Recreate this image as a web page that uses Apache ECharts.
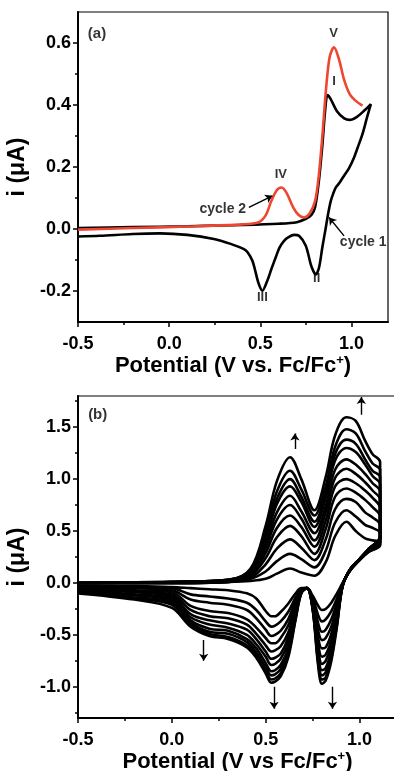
<!DOCTYPE html>
<html>
<head>
<meta charset="utf-8">
<script src="https://cdn.jsdelivr.net/npm/echarts@6/dist/echarts.min.js"></script>
<style>
html, body { margin: 0; padding: 0; background: #fff; }
#chart { width: 394px; height: 771px; }
</style>
</head>
<body>
<div id="chart"></div>
<script>
/* ---------- panel (a): cycle 1 and cycle 2 ---------- */
var cycle1Potential = [-0.5, -0.2, 0.1, 0.4, 0.6, 0.7, 0.75, 0.78, 0.8, 0.82, 0.84, 0.855, 0.868, 0.885, 0.92, 0.96, 0.99, 1.03, 1.07, 1.106,
    1.085, 1.06, 1.035, 1.014, 0.985, 0.959, 0.935, 0.914, 0.9, 0.886, 0.872, 0.859, 0.84, 0.822, 0.804, 0.79, 0.776, 0.749, 0.712, 0.685,
    0.655, 0.63, 0.605, 0.584, 0.56, 0.538, 0.511, 0.49, 0.47, 0.456, 0.43, 0.41, 0.337, 0.245, 0.1, -0.05, -0.2, -0.38, -0.5];
var cycle1Current = [0.003, 0.006, 0.009, 0.013, 0.017, 0.022, 0.033, 0.045, 0.07, 0.15, 0.27, 0.38, 0.432, 0.42, 0.38, 0.357, 0.352, 0.362, 0.382, 0.403,
    0.36, 0.306, 0.265, 0.231, 0.195, 0.172, 0.15, 0.134, 0.115, 0.09, 0.05, 0.005, -0.059, -0.124, -0.147, -0.135, -0.113, -0.054, -0.022, -0.019,
    -0.026, -0.038, -0.06, -0.092, -0.13, -0.167, -0.199, -0.175, -0.13, -0.102, -0.075, -0.065, -0.048, -0.032, -0.019, -0.014, -0.016, -0.022, -0.024];

var cycle2Potential = [-0.5, -0.2, 0.1, 0.4, 0.49, 0.53, 0.56, 0.59, 0.617, 0.645, 0.68, 0.71, 0.74, 0.77, 0.8, 0.82, 0.84, 0.86, 0.88, 0.904,
    0.93, 0.96, 0.99, 1.02, 1.06];
var cycle2Current = [-0.002, 0.003, 0.008, 0.015, 0.022, 0.045, 0.09, 0.125, 0.134, 0.115, 0.07, 0.045, 0.037, 0.05, 0.09, 0.17, 0.3, 0.45, 0.555, 0.586,
    0.55, 0.48, 0.435, 0.415, 0.398];

/* ---------- panel (b): repeated scans ---------- */
var fwdPotential = [-0.5, 0.0, 0.3, 0.42, 0.5, 0.56, 0.63, 0.69, 0.76, 0.82, 0.87, 0.93, 0.98, 1.03, 1.07, 1.11];
var revPotential = [1.11, 1.05, 1.0, 0.95, 0.91, 0.88, 0.85, 0.82, 0.8, 0.78, 0.75, 0.72, 0.69, 0.66, 0.62, 0.58, 0.55, 0.53, 0.5, 0.45,
    0.4, 0.3, 0.2, 0.1, 0.0, -0.2, -0.5];

var fwdCurrent = [
    [0.0, 0.0, 0.01, 0.02, 0.04, 0.09, 0.14, 0.10, 0.07, 0.20, 0.45, 0.59, 0.50, 0.43, 0.41, 0.40],
    [0.0, 0.0, 0.01, 0.04, 0.11, 0.21, 0.28, 0.23, 0.15, 0.31, 0.58, 0.70, 0.64, 0.56, 0.53, 0.48],
    [0.0, 0.0, 0.01, 0.05, 0.18, 0.33, 0.42, 0.34, 0.22, 0.42, 0.71, 0.81, 0.78, 0.68, 0.63, 0.56],
    [0.0, 0.0, 0.01, 0.07, 0.24, 0.44, 0.55, 0.45, 0.28, 0.52, 0.83, 0.91, 0.87, 0.80, 0.73, 0.64],
    [0.0, 0.0, 0.02, 0.08, 0.29, 0.53, 0.65, 0.54, 0.35, 0.60, 0.93, 1.00, 0.96, 0.89, 0.82, 0.72],
    [0.0, 0.01, 0.02, 0.09, 0.34, 0.61, 0.75, 0.62, 0.41, 0.68, 1.01, 1.10, 1.05, 0.97, 0.89, 0.80],
    [0.0, 0.01, 0.02, 0.10, 0.38, 0.68, 0.84, 0.69, 0.48, 0.74, 1.09, 1.19, 1.14, 1.05, 0.96, 0.88],
    [0.0, 0.01, 0.02, 0.11, 0.42, 0.76, 0.93, 0.78, 0.54, 0.82, 1.18, 1.30, 1.26, 1.14, 1.03, 0.95],
    [0.0, 0.01, 0.03, 0.12, 0.45, 0.81, 1.00, 0.83, 0.59, 0.86, 1.24, 1.38, 1.34, 1.19, 1.08, 1.02],
    [0.0, 0.01, 0.03, 0.13, 0.49, 0.88, 1.08, 0.90, 0.65, 0.93, 1.31, 1.48, 1.44, 1.27, 1.15, 1.09],
    [0.0, 0.01, 0.03, 0.14, 0.55, 0.98, 1.21, 1.00, 0.70, 1.02, 1.42, 1.595, 1.56, 1.37, 1.24, 1.165]
];
var revCurrent = [
    [0.36, 0.30, 0.22, 0.12, 0.00, -0.10, -0.19, -0.25, -0.26, -0.22, -0.12, -0.05, -0.05, -0.10, -0.20, -0.28, -0.32, -0.32, -0.27, -0.15, -0.10, -0.07, -0.06, -0.05, -0.04, -0.03, -0.03],
    [0.37, 0.30, 0.22, 0.12, -0.01, -0.15, -0.27, -0.35, -0.37, -0.31, -0.14, -0.05, -0.06, -0.14, -0.28, -0.37, -0.41, -0.42, -0.37, -0.26, -0.19, -0.15, -0.13, -0.11, -0.05, -0.04, -0.035],
    [0.39, 0.31, 0.22, 0.12, -0.01, -0.19, -0.35, -0.45, -0.47, -0.39, -0.16, -0.05, -0.06, -0.17, -0.35, -0.46, -0.50, -0.51, -0.45, -0.34, -0.26, -0.21, -0.19, -0.16, -0.07, -0.05, -0.04],
    [0.40, 0.31, 0.22, 0.12, -0.01, -0.23, -0.42, -0.53, -0.55, -0.46, -0.17, -0.05, -0.07, -0.20, -0.41, -0.53, -0.58, -0.58, -0.53, -0.43, -0.35, -0.29, -0.27, -0.22, -0.09, -0.07, -0.05],
    [0.41, 0.32, 0.23, 0.13, -0.02, -0.27, -0.49, -0.62, -0.63, -0.53, -0.19, -0.05, -0.08, -0.23, -0.48, -0.61, -0.65, -0.66, -0.60, -0.49, -0.40, -0.34, -0.32, -0.26, -0.11, -0.08, -0.055],
    [0.42, 0.32, 0.23, 0.13, -0.02, -0.31, -0.55, -0.69, -0.71, -0.59, -0.20, -0.05, -0.08, -0.26, -0.53, -0.68, -0.72, -0.73, -0.66, -0.54, -0.45, -0.39, -0.36, -0.30, -0.13, -0.09, -0.06],
    [0.43, 0.32, 0.23, 0.13, -0.02, -0.33, -0.60, -0.75, -0.78, -0.64, -0.22, -0.05, -0.09, -0.28, -0.58, -0.73, -0.78, -0.79, -0.71, -0.59, -0.50, -0.43, -0.40, -0.33, -0.15, -0.11, -0.07],
    [0.43, 0.32, 0.23, 0.13, -0.03, -0.36, -0.65, -0.82, -0.84, -0.70, -0.23, -0.05, -0.09, -0.31, -0.63, -0.79, -0.84, -0.85, -0.77, -0.63, -0.54, -0.46, -0.44, -0.36, -0.17, -0.12, -0.08],
    [0.44, 0.33, 0.23, 0.13, -0.03, -0.39, -0.69, -0.86, -0.89, -0.74, -0.24, -0.05, -0.09, -0.32, -0.66, -0.83, -0.88, -0.89, -0.81, -0.67, -0.57, -0.49, -0.47, -0.38, -0.19, -0.14, -0.085],
    [0.45, 0.33, 0.23, 0.13, -0.03, -0.40, -0.72, -0.91, -0.93, -0.77, -0.24, -0.05, -0.10, -0.34, -0.69, -0.87, -0.92, -0.93, -0.84, -0.70, -0.60, -0.52, -0.49, -0.40, -0.21, -0.15, -0.09],
    [0.45, 0.33, 0.23, 0.13, -0.03, -0.42, -0.75, -0.94, -0.97, -0.80, -0.25, -0.05, -0.10, -0.35, -0.72, -0.90, -0.95, -0.96, -0.87, -0.72, -0.62, -0.54, -0.51, -0.42, -0.24, -0.16, -0.10]
];

/* ---------- ticks ---------- */
var xTicks = [-0.5, 0.0, 0.5, 1.0];
var xMinorTicks = [-0.25, 0.25, 0.75];
var yTicksA = [-0.2, 0.0, 0.2, 0.4, 0.6];
var yMinorTicksA = [-0.1, 0.1, 0.3, 0.5];
var yTicksB = [-1.0, -0.5, 0.0, 0.5, 1.0, 1.5];
var yMinorTicksB = [-1.25, -0.75, -0.25, 0.25, 0.75, 1.25, 1.75];

/* ---------- annotations ---------- */
var labelsA = [
    {name: '(a)', value: [-0.396, 0.629], size: 15},
    {name: 'V', value: [0.901, 0.631], size: 13},
    {name: 'I', value: [0.904, 0.475], size: 13},
    {name: 'IV', value: [0.612, 0.177], size: 13},
    {name: 'II', value: [0.809, -0.161], size: 13},
    {name: 'III', value: [0.511, -0.221], size: 13},
    {name: 'cycle 2', value: [0.294, 0.064], size: 14},
    {name: 'cycle 1', value: [1.064, -0.043], size: 14}
];
var arrowsA = [
    [[0.437, 0.07], [0.566, 0.107]],
    [[0.959, -0.022], [0.877, 0.037]]
];
var labelsB = [
    {name: '(b)', value: [-0.395, 1.615], size: 15}
];
var arrowsB = [
    [[0.656, 1.29], [0.656, 1.44]],
    [[1.01, 1.62], [1.01, 1.79]],
    [[0.17, -0.55], [0.17, -0.75]],
    [[0.545, -1.0], [0.545, -1.21]],
    [[0.856, -1.0], [0.856, -1.21]]
];

var FONT = '"Liberation Sans", Arial, sans-serif';

function pairs(xs, ys) {
    var res = [];
    for (var i = 0; i < xs.length; i++) {
        res.push([xs[i], ys[i]]);
    }
    return res;
}

function majorAxis(dim, gridIndex, min, max, ticks, name, nameGap) {
    var ax = {
        type: 'value', gridIndex: gridIndex, min: min, max: max,
        position: dim === 'x' ? 'bottom' : 'left',
        name: name, nameLocation: 'middle', nameGap: nameGap,
        nameTextStyle: {
            fontFamily: FONT, fontWeight: 'bold', fontSize: dim === 'x' ? 22 : 23, color: '#000',
            rich: {sup: {fontFamily: FONT, fontWeight: 'bold', fontSize: 13, color: '#000', verticalAlign: 'top', padding: [0, 0, 12, 0]}}
        },
        axisLine: {show: true, onZero: false, lineStyle: {color: '#000', width: 2}},
        axisTick: {show: true, inside: false, length: 5, customValues: ticks, lineStyle: {color: '#000', width: 1.5}},
        minorTick: {show: false},
        axisLabel: {
            show: true, customValues: ticks, margin: dim === 'x' ? 13 : 7,
            fontFamily: FONT, fontWeight: 'bold', fontSize: 18, color: '#000',
            formatter: function (v) { return v.toFixed(1); }
        },
        splitLine: {show: false}
    };
    if (dim === 'y') ax.nameRotate = 90;
    return ax;
}

function minorAxis(dim, gridIndex, min, max, ticks) {
    return {
        type: 'value', gridIndex: gridIndex, min: min, max: max,
        position: dim === 'x' ? 'bottom' : 'left',
        axisLine: {show: false, onZero: false},
        axisTick: {show: true, inside: false, length: 3, customValues: ticks, lineStyle: {color: '#000', width: 1.5}},
        axisLabel: {show: false},
        splitLine: {show: false}
    };
}

var xTitleA = 'Potential (V vs. Fc/Fc{sup|+})';
var xTitleB = 'Potential (V vs Fc/Fc{sup|+})';

var series = [];

series.push({
    type: 'line', xAxisIndex: 0, yAxisIndex: 0,
    data: pairs(cycle1Potential, cycle1Current),
    smooth: 0.3, showSymbol: false, symbol: 'none',
    lineStyle: {color: '#000', width: 2.6}, z: 3
});
series.push({
    type: 'line', xAxisIndex: 0, yAxisIndex: 0,
    data: pairs(cycle2Potential, cycle2Current),
    smooth: 0.3, showSymbol: false, symbol: 'none',
    lineStyle: {color: '#ef4632', width: 2.6}, z: 4
});

for (var c = 0; c < fwdCurrent.length; c++) {
    series.push({
        type: 'line', xAxisIndex: 2, yAxisIndex: 2,
        data: pairs(fwdPotential.concat(revPotential), fwdCurrent[c].concat(revCurrent[c])),
        smooth: 0.35, showSymbol: false, symbol: 'none',
        lineStyle: {color: '#000', width: 2.6}, z: 3
    });
}

function labelSeries(xi, yi, items) {
    return {
        type: 'scatter', xAxisIndex: xi, yAxisIndex: yi, symbolSize: 0, silent: true, z: 6,
        data: items.map(function (d) {
            return {
                name: d.name, value: d.value,
                label: {show: true, position: 'inside', formatter: '{b}', color: '#000',
                    fontFamily: FONT, fontWeight: 'bold', fontSize: d.size}
            };
        })
    };
}

function arrowSeries(xi, yi, items) {
    return {
        type: 'lines', coordinateSystem: 'cartesian2d', xAxisIndex: xi, yAxisIndex: yi,
        silent: true, z: 6,
        symbol: ['none', 'arrow'], symbolSize: 7,
        lineStyle: {color: '#000', width: 1.4, opacity: 1},
        data: items.map(function (a) { return {coords: a}; })
    };
}

series.push(labelSeries(0, 0, labelsA));
series.push(arrowSeries(0, 0, arrowsA));
series.push(labelSeries(2, 2, labelsB));
series.push(arrowSeries(2, 2, arrowsB));

var chart = echarts.init(document.getElementById('chart'));
chart.setOption({
    animation: false,
    backgroundColor: '#fff',
    grid: [
        {left: 78, top: 12, right: 6, bottom: 449, show: true, borderColor: '#000', borderWidth: 1.2,
            backgroundColor: 'transparent', containLabel: false, outerBoundsMode: 'none'},
        {left: 78, top: 396, right: -3, bottom: 53, show: true, borderColor: '#000', borderWidth: 1.2,
            backgroundColor: 'transparent', containLabel: false, outerBoundsMode: 'none'}
    ],
    xAxis: [
        majorAxis('x', 0, -0.5, 1.2, xTicks, xTitleA, 30),
        minorAxis('x', 0, -0.5, 1.2, xMinorTicks),
        majorAxis('x', 1, -0.5, 1.2, xTicks, xTitleB, 26),
        minorAxis('x', 1, -0.5, 1.2, xMinorTicks)
    ],
    yAxis: [
        majorAxis('y', 0, -0.3, 0.7, yTicksA, 'i (μA)', 40),
        minorAxis('y', 0, -0.3, 0.7, yMinorTicksA),
        majorAxis('y', 1, -1.3, 1.8, yTicksB, 'i (μA)', 40),
        minorAxis('y', 1, -1.3, 1.8, yMinorTicksB)
    ],
    series: series
});
</script>
</body>
</html>
